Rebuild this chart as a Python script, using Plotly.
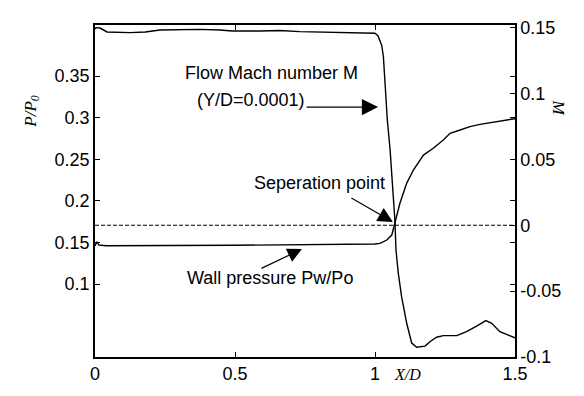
import plotly.graph_objects as go

# ---- data ----
x_mach = [0.0, 0.004, 0.018, 0.043, 0.125, 0.18, 0.232, 0.375, 0.446, 0.49, 0.589, 0.66, 0.732,
          0.80, 0.875, 0.929, 0.982, 1.0, 1.011, 1.024, 1.030, 1.036, 1.044, 1.054, 1.065,
          1.071, 1.075, 1.083, 1.095, 1.113, 1.131, 1.149, 1.179, 1.196, 1.220, 1.244, 1.292,
          1.327, 1.363, 1.396, 1.417, 1.446, 1.470, 1.5]
mach = [0.149, 0.150, 0.1497, 0.1467, 0.1462, 0.1467, 0.1482, 0.1487, 0.1482, 0.1474, 0.1474,
        0.1478, 0.147, 0.1467, 0.1463, 0.1459, 0.1459, 0.1457, 0.1437, 0.1365, 0.1279, 0.1052,
        0.0799, 0.0571, 0.0268, 0.0040, -0.0188, -0.0362, -0.0542, -0.0742, -0.0894, -0.0926,
        -0.0917, -0.0884, -0.0850, -0.0838, -0.0838, -0.0808, -0.0765, -0.0724, -0.0744,
        -0.0808, -0.0828, -0.0854]

x_wall = [0.0, 0.007, 0.014, 0.04, 0.5, 0.95, 1.0, 1.018, 1.042, 1.060, 1.071, 1.089, 1.113,
          1.137, 1.173, 1.208, 1.244, 1.268, 1.304, 1.339, 1.375, 1.423, 1.458, 1.5]
p_wall = [0.1457, 0.1508, 0.1469, 0.1460, 0.1466, 0.1477, 0.1481, 0.1489, 0.1529, 0.1589,
          0.1730, 0.1970, 0.2210, 0.2370, 0.2550, 0.2631, 0.2731, 0.2811, 0.2851, 0.2891,
          0.2919, 0.2947, 0.2963, 0.2987]

x_sep = [0.0, 1.5]
m_sep = [0.0, 0.0]

x_ticks = [0, 0.5, 1, 1.5]
x_ticktext = ["0", "0.5", "1", "1.5"]
p_ticks = [0.1, 0.15, 0.2, 0.25, 0.3, 0.35]
p_ticktext = ["0.1", "0.15", "0.2", "0.25", "0.3", "0.35"]
m_ticks = [-0.1, -0.05, 0, 0.05, 0.1, 0.15]
m_ticktext = ["-0.1", "-0.05", "0", "0.05", "0.1", "0.15"]

FONT = "Liberation Sans, Arial, sans-serif"
SERIF = "Liberation Serif, Times New Roman, serif"

fig = go.Figure()
fig.add_trace(go.Scatter(x=x_wall, y=p_wall, mode="lines", yaxis="y",
                         line=dict(color="black", width=1.4), showlegend=False))
fig.add_trace(go.Scatter(x=x_mach, y=mach, mode="lines", yaxis="y2",
                         line=dict(color="black", width=1.4), showlegend=False))
fig.add_trace(go.Scatter(x=x_sep, y=m_sep, mode="lines", yaxis="y2",
                         line=dict(color="black", width=1, dash="4px,2px"), showlegend=False))

axis_common = dict(showgrid=False, zeroline=False, showline=True, linecolor="black",
                   linewidth=1.5, ticks="inside", ticklen=5, tickcolor="black",
                   tickfont=dict(family=FONT, size=18, color="black"))

fig.update_layout(
    width=584, height=396,
    margin=dict(l=95, r=69, t=25, b=39),
    paper_bgcolor="white", plot_bgcolor="white",
    xaxis=dict(range=[0, 1.5], tickvals=x_ticks, ticktext=x_ticktext, mirror="ticks",
               **axis_common),
    yaxis=dict(range=[0.0123, 0.4113], tickvals=p_ticks, ticktext=p_ticktext, mirror="ticks",
               **axis_common),
    yaxis2=dict(range=[-0.1, 0.152], tickvals=m_ticks, ticktext=m_ticktext, overlaying="y",
                side="right", **axis_common),
)

txt = dict(family=FONT, size=18, color="black")
annotations = [
    dict(x=0.314, y=0.3536, xref="x", yref="y", text="Flow Mach number M", showarrow=False,
         xanchor="left", yanchor="middle", font=txt),
    dict(x=0.357, y=0.3212, xref="x", yref="y", text="(Y/D=0.0001)", showarrow=False,
         xanchor="left", yanchor="middle", font=txt),
    dict(x=0.561, y=0.2214, xref="x", yref="y", text="Seperation point", showarrow=False,
         xanchor="left", yanchor="middle", font=txt),
    dict(x=0.321, y=0.1072, xref="x", yref="y", text="Wall pressure Pw/Po", showarrow=False,
         xanchor="left", yanchor="middle", font=txt),
    # arrows
    dict(x=1.011, y=0.3127, xref="x", yref="y", text="", showarrow=True, ax=-73, ay=0,
         arrowhead=2, arrowsize=2.7, arrowwidth=1.2, arrowcolor="black"),
    dict(x=1.064, y=0.1745, xref="x", yref="y", text="", showarrow=True, ax=-43, ay=-25,
         arrowhead=2, arrowsize=2.5, arrowwidth=1.2, arrowcolor="black"),
    dict(x=0.739, y=0.142, xref="x", yref="y", text="", showarrow=True, ax=-42, ay=20,
         arrowhead=2, arrowsize=2.4, arrowwidth=1.2, arrowcolor="black"),
    # axis titles
    dict(x=-0.183, y=0.795, xref="paper", yref="paper", text="<i>P/P<sub>0</sub></i>",
         showarrow=False, textangle=-90, font=dict(family=SERIF, size=17, color="black")),
    dict(x=1.131, y=0.783, xref="paper", yref="paper", text="<i>M</i>",
         showarrow=False, textangle=90, font=dict(family=SERIF, size=17, color="black")),
    dict(x=0.781, y=-0.084, xref="paper", yref="paper", text="<i>X/D</i>",
         showarrow=False, font=dict(family=SERIF, size=16, color="black")),
]
fig.update_layout(annotations=annotations)

fig.write_html("out.html")
